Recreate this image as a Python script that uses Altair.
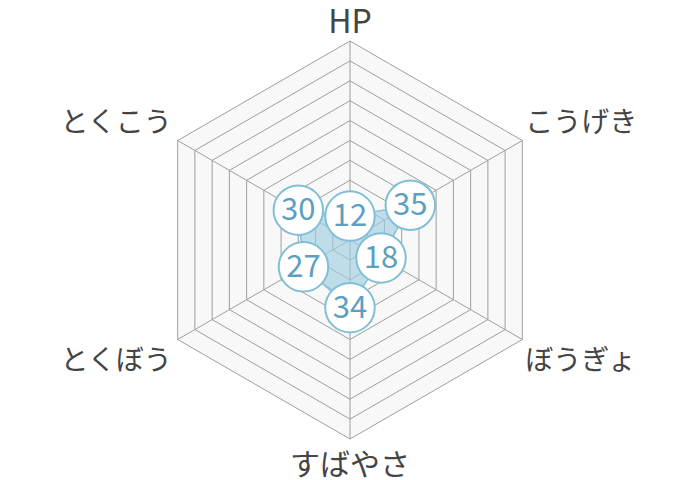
import altair as alt
import pandas as pd

# ---- data ----
categories = ["HP", "こうげき", "ぼうぎょ", "すばやさ", "とくぼう", "とくこう"]
values = [12, 35, 18, 34, 27, 30]
ring_levels = [10, 20, 30, 40, 50, 60, 70, 80, 90, 100]
max_value = 100

n = len(categories)
FONT = "Noto Sans CJK JP"

W, H = 684, 464
PX_PER_UNIT = 1.99
x_scale = alt.Scale(domain=[-W / 2 / PX_PER_UNIT, W / 2 / PX_PER_UNIT], nice=False, zero=False)
y_scale = alt.Scale(domain=[-H / 2 / PX_PER_UNIT, H / 2 / PX_PER_UNIT], nice=False, zero=False)

angle_expr = "PI / 2 - datum.idx * 2 * PI / %d" % n

axes_df = pd.DataFrame({"cat": categories, "idx": list(range(n)), "top": [max_value] * n})
ring_df = pd.DataFrame(
    [{"level": L, "idx": i % n, "ord": i} for L in ring_levels for i in range(n + 1)]
)
poly_df = pd.DataFrame(
    [{"cat": categories[i % n], "value": values[i % n], "idx": i % n, "ord": i} for i in range(n + 1)]
)
pts_df = pd.DataFrame({"cat": categories, "value": values, "idx": list(range(n))})


def xy(chart, r_field):
    return chart.transform_calculate(angle=angle_expr).transform_calculate(
        px="datum.%s * cos(datum.angle)" % r_field,
        py="datum.%s * sin(datum.angle)" % r_field,
    )


X = alt.X("px:Q", scale=x_scale, axis=None)
Y = alt.Y("py:Q", scale=y_scale, axis=None)

background = xy(
    alt.Chart(ring_df).transform_filter(alt.datum.level == max_value), "level"
).mark_line(fill="#f8f8f8", stroke="#f8f8f8", strokeWidth=0).encode(
    x=X, y=Y, order="ord:Q"
)

GRID = "#9e9e9e"
rings = xy(alt.Chart(ring_df), "level").mark_line(
    color=GRID, strokeWidth=1
).encode(x=X, y=Y, detail="level:N", order="ord:Q")

spokes = xy(alt.Chart(axes_df), "top").transform_calculate(zx="0", zy="0").mark_rule(
    color=GRID, strokeWidth=1
).encode(
    x=alt.X("zx:Q", scale=x_scale, axis=None),
    y=alt.Y("zy:Q", scale=y_scale, axis=None),
    x2="px:Q",
    y2="py:Q",
)

poly = xy(alt.Chart(poly_df), "value").mark_line(
    fill="#9fcde0", fillOpacity=0.65, stroke="#86c1da", strokeWidth=1.5
).encode(x=X, y=Y, order="ord:Q")

circles = xy(alt.Chart(pts_df), "value").mark_circle(
    fill="white", opacity=1, stroke="#80bfd8", strokeWidth=2, size=2450
).encode(x=X, y=Y, order=alt.Order("idx:Q", sort="descending"))

value_text = xy(alt.Chart(pts_df), "value").mark_text(
    font=FONT, fontSize=31, color="#5c9fc1", baseline="middle", align="center", dy=1
).encode(x=X, y=Y, text="value:Q")

label_base = (
    alt.Chart(axes_df)
    .transform_calculate(angle=angle_expr)
    .transform_calculate(c="cos(datum.angle)", s="sin(datum.angle)")
    .transform_calculate(
        lx="datum.top * datum.c + (abs(datum.c) < 0.01 ? 0 : (datum.c > 0 ? 1.5 : -3))",
        ly="datum.top * datum.s + (datum.s > 0 ? 4.2 : (abs(datum.c) < 0.01 ? -18.3 : -15.3))",
    )
)
LX = alt.X("lx:Q", scale=x_scale, axis=None)
LY = alt.Y("ly:Q", scale=y_scale, axis=None)
label_style = dict(font=FONT, color="#444444", baseline="alphabetic")

labels_top = label_base.transform_filter("datum.s > 0.99").mark_text(
    align="center", fontSize=32, **label_style
).encode(x=LX, y=LY, text="cat:N")
labels_bottom = label_base.transform_filter("datum.s < -0.99").mark_text(
    align="center", fontSize=30, **label_style
).encode(x=LX, y=LY, text="cat:N")
labels_r = label_base.transform_filter("datum.c >= 0.01").mark_text(
    align="left", fontSize=28, **label_style
).encode(x=LX, y=LY, text="cat:N")
labels_l = label_base.transform_filter("datum.c <= -0.01").mark_text(
    align="right", fontSize=28, **label_style
).encode(x=LX, y=LY, text="cat:N")

chart = (
    alt.layer(
        background, rings, spokes, poly, circles, value_text,
        labels_top, labels_bottom, labels_r, labels_l,
    )
    .properties(
        width=W,
        height=H,
        padding={"left": 0, "right": 0, "top": 0, "bottom": 8},
        autosize="none",
        background="white",
    )
    .configure_view(stroke=None)
)

chart.save("out.html", embed_options={"renderer": "svg", "actions": False})
